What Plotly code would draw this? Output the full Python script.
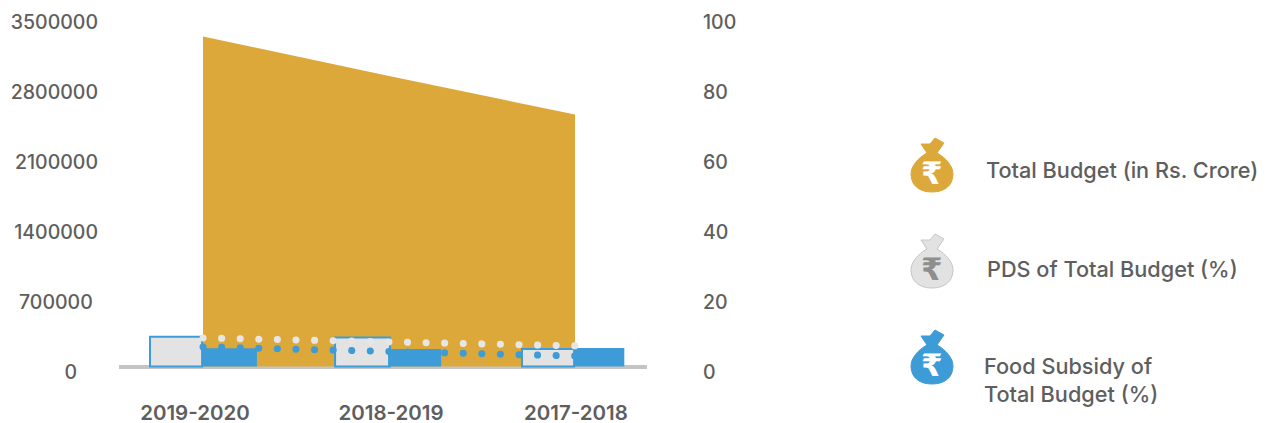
import plotly.graph_objects as go

# ---- data ----
years = ["2019-2020", "2018-2019", "2017-2018"]
total_budget = [3300000, 2905000, 2520000]
pds_bar = [8.5, 8.3, 5.0]
food_bar = [5.2, 5.0, 5.3]
pds_line = [8.15, 7.0, 5.9]
food_line = [5.6, 4.4, 3.0]
left_ticks = [0, 700000, 1400000, 2100000, 2800000, 3500000]
right_ticks = [0, 20, 40, 60, 80, 100]
legend_labels = ["Total Budget (in Rs. Crore)", "PDS of Total Budget (%)", "Food Subsidy of<br>Total Budget (%)"]

# ---- styles / layout ----
GOLD, GREY, BLUE = "#DDA83A", "#E3E3E3", "#3D9CD7"
TEXT = "#5E5E5E"
FONT = "Inter"
W, H = 1269, 423
L, R, T, B = 119, 647, 16, 380


def px(x):
    return (x - L) / (R - L)


def py(y):
    return (B - y) / (B - T)


xs = list(range(len(years)))
fig = go.Figure()

fig.add_trace(go.Scatter(x=xs, y=total_budget, mode="lines", fill="tozeroy", fillcolor=GOLD,
                         line=dict(width=0, color=GOLD), yaxis="y", showlegend=False, hoverinfo="skip"))
fig.add_trace(go.Bar(x=xs, y=pds_bar, yaxis="y2", marker=dict(color=GREY, line=dict(color=BLUE, width=2)),
                     width=[0.28, 0.295, 0.28], offset=[-0.285, -0.29, -0.285], showlegend=False))
fig.add_trace(go.Bar(x=xs, y=food_bar, yaxis="y2", marker=dict(color=BLUE, line=dict(width=0)),
                     width=[0.295, 0.285, 0.27], offset=[-0.005, -0.005, -0.005], showlegend=False))
for vals, col in ((pds_line, "#E6E6E6"), (food_line, BLUE)):
    fig.add_trace(go.Scatter(x=xs, y=vals, mode="lines", yaxis="y2", showlegend=False,
                             line=dict(color=col, width=7, dash="0.1px,18.49px")))

font = dict(family=FONT, size=19.5, color=TEXT, weight=500)
xfont = dict(family=FONT, size=20.5, color=TEXT, weight=600)
legend_font = dict(family=FONT, size=21.7, color=TEXT, weight=500)
# reference labels sit about 5 px below their nominal gridline
left_vals = [v - 55000 for v in left_ticks]
right_vals = [v - 1.5 for v in right_ticks]
pad = {0: 4, 700000: 1}
left_text = [f"{v}" + "\u00a0" * pad.get(v, 0) for v in left_ticks]

bag = ("M-11,21 L-2,21 L3,27 L12,22 L5,12 C14,7 21,-1 21,-9 C21,-21 12,-27 0,-27 "
       "C-12,-27 -21,-21 -21,-9 C-21,-1 -14,7 -5,12 Z")
icons = [(165, GOLD, GOLD, "white"), (261, "#E2E2E2", "#C6C6C6", "#8E8E8E"), (357, BLUE, BLUE, "white")]
shapes = [dict(type="path", path=bag, xref="paper", yref="paper", xsizemode="pixel", ysizemode="pixel",
               xanchor=px(932), yanchor=py(cy), fillcolor=f, line=dict(color=c, width=1))
          for cy, f, c, _ in icons]
annots = [dict(text="₹", x=px(932), y=py(cy + 8), xref="paper", yref="paper", showarrow=False,
               xanchor="center", yanchor="middle", font=dict(family="DejaVu Sans", size=31, color=g, weight=700))
          for cy, _, _, g in icons]
for text, x, y in zip(legend_labels, (984, 985, 982), (170, 269, 380)):
    annots.append(dict(text=text, x=px(x), y=py(y), xref="paper", yref="paper", showarrow=False,
                       xanchor="left", yanchor="middle", align="left", font=legend_font))

fig.update_layout(
    width=W, height=H, autosize=False, margin=dict(l=L, r=W - R, t=T, b=H - B, pad=0, autoexpand=False),
    paper_bgcolor="white", plot_bgcolor="white", barmode="overlay", shapes=shapes, annotations=annots,
    xaxis=dict(range=[-0.4516, 2.387], tickmode="array", tickvals=[-0.043, 1.011, 2.005], ticktext=years,
               showgrid=False, zeroline=False, showline=False, ticks="", tickfont=xfont, ticklabelstandoff=18,
               automargin=False),
    yaxis=dict(range=[-135000, 3505000], tickmode="array", tickvals=left_vals, ticktext=left_text,
               showgrid=False, zeroline=True, zerolinecolor="#C4C4C4", zerolinewidth=4, showline=False,
               ticks="", tickfont=font, ticklabelstandoff=20, automargin=False),
    yaxis2=dict(range=[-3.857, 100.14], overlaying="y", side="right", tickmode="array", tickvals=right_vals,
                ticktext=[str(v) for v in right_ticks], showgrid=False, zeroline=False, showline=False,
                ticks="", tickfont=font, ticklabelstandoff=55, automargin=False),
)

round_caps = """
document.querySelectorAll('.scatterlayer .js-line').forEach(function (p) {
  if ((p.style.strokeDasharray || '').indexOf('0.1') === 0) { p.style.strokeLinecap = 'round'; }
});
document.body.style.margin = '0';
"""
fig.write_html("out.html", post_script=round_caps, config={"displayModeBar": False})
